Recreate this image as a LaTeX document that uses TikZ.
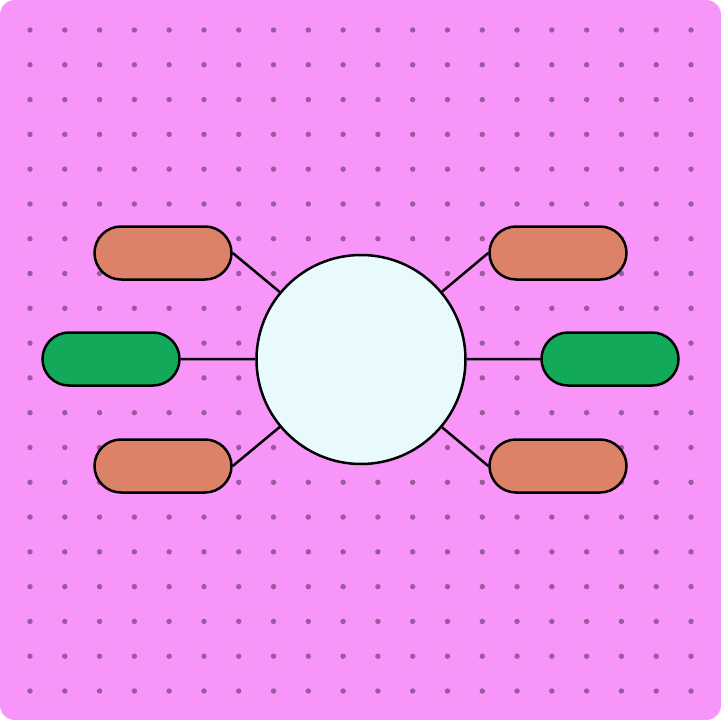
\documentclass[tikz,border=0pt]{standalone}
\usetikzlibrary{shapes.misc}
\definecolor{bgpink}{HTML}{F795F9}
\definecolor{dotc}{HTML}{9A5A9C}
\definecolor{circfill}{HTML}{E8FAFD}
\definecolor{orangefill}{HTML}{DC8269}
\definecolor{greenfill}{HTML}{12AA5A}
\tikzset{
  pill/.style={rounded rectangle, draw=black, line width=2.5pt, minimum width=137pt, minimum height=53pt, inner sep=0pt},
  orangepill/.style={pill, fill=orangefill},
  greenpill/.style={pill, fill=greenfill},
  hub/.style={circle, draw=black, line width=2.5pt, fill=circfill, minimum size=209pt, inner sep=0pt},
  link/.style={draw=black, line width=2.5pt},
  griddot/.style={fill=dotc}
}
\begin{document}
\begin{tikzpicture}[x=1pt,y=-1pt]
\useasboundingbox (0,0) rectangle (721,720);
\fill[bgpink, rounded corners=15pt] (0,0) rectangle (721,720);
\foreach \i in {0,...,19} {
  \foreach \j in {0,...,19} {
    \fill[griddot] ({30+34.79*\i},{30+34.79*\j}) circle (2.7pt);
  }
}
\node[hub] (c) at (361,359.5) {};
\node[orangepill] (tl) at (163,253) {};
\node[orangepill] (tr) at (558,253) {};
\node[greenpill] (ml) at (111,359) {};
\node[greenpill] (mr) at (610,359) {};
\node[orangepill] (bl) at (163,466) {};
\node[orangepill] (br) at (558,466) {};
\draw[link] (tl.east) -- (c);
\draw[link] (tr.west) -- (c);
\draw[link] (ml.east) -- (c);
\draw[link] (mr.west) -- (c);
\draw[link] (bl.east) -- (c);
\draw[link] (br.west) -- (c);
\end{tikzpicture}
\end{document}
